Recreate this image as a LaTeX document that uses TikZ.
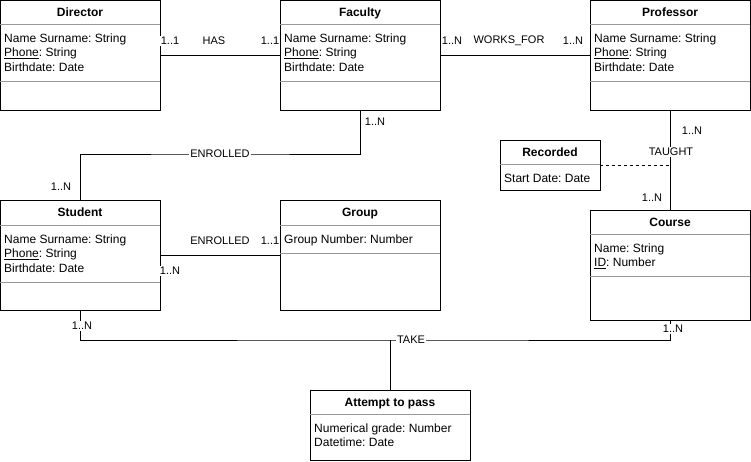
\documentclass[tikz,border=0pt]{standalone}
\usepackage{fontspec}
\setmainfont{Liberation Sans}
\usetikzlibrary{calc}
\frenchspacing

% entity box: name, left, top, width, height, header height, divider offset (0 = none), title, attribute lines
\newcommand\erentity[9]{%
  \node[entitybox, minimum width=#4pt, minimum height=#5pt, anchor=north west] (#1) at (#2,#3) {};
  \draw[divider] ($(#1.north west)+(0,#6)$) -- ($(#1.north east)+(0,#6)$);
  \ifnum#7>0 \draw[divider] ($(#1.north west)+(0,#7)$) -- ($(#1.north east)+(0,#7)$);\fi
  \node[titletext] at ($(#1.north)+(0,{#6/2+4})$) {#8};
  \foreach \attrline [count=\k] in {#9} {%
    \node[attrtext] at ($(#1.north west)+(4,{#6+18+(\k-1)*14.5})$) {\attrline};
  }%
}

\begin{document}
\begin{tikzpicture}[x=1pt,y=-1pt,
  entitybox/.style={draw=black, line width=1pt, fill=white, inner sep=0pt, outer sep=0pt},
  divider/.style={draw=black!40, line width=1pt},
  titletext/.style={font=\fontsize{12}{14}\selectfont\bfseries, inner sep=0pt, anchor=base},
  attrtext/.style={font=\fontsize{12}{14}\selectfont, inner sep=0pt, anchor=base west},
  rel/.style={draw=black, line width=1pt},
  optional/.style={draw=black, line width=1pt, dash pattern=on 3pt off 3pt},
  lbl/.style={font=\fontsize{11}{13}\selectfont, fill=white, inner sep=1pt}
]
\useasboundingbox (0,0) rectangle (751,461);

% entities
\erentity{director}{0}{0}{160}{110}{24}{81}{Director}{Name Surname: String, \underline{Phone}: String, Birthdate: Date}
\erentity{faculty}{280}{0}{160}{110}{24}{81}{Faculty}{Name Surname: String, \underline{Phone}: String, Birthdate: Date}
\erentity{professor}{590}{0}{160}{110}{24}{81}{Professor}{Name Surname: String, \underline{Phone}: String, Birthdate: Date}
\erentity{student}{0}{200}{160}{110}{25}{82}{Student}{Name Surname: String, \underline{Phone}: String, Birthdate: Date}
\erentity{group}{280}{200}{160}{110}{25}{53}{Group}{Group Number: Number}
\erentity{course}{590}{210}{160}{110}{24}{66}{Course}{Name: String, \underline{ID}: Number}
\erentity{recorded}{500}{140}{100}{50}{24}{0}{Recorded}{Start Date: Date}
\erentity{attempt}{310}{390}{160}{70}{24}{0}{Attempt to pass}{Numerical grade: Number, Datetime: Date}

% relationship routing points
\coordinate (enrollbend) at (220,154);
\coordinate (taughtpt) at (670,165);
\coordinate (takept) at (390,340);

% relationships
\draw[rel] (director) -- (faculty);
\draw[rel] (faculty) -- (professor);
\draw[rel] (faculty.south) |- (enrollbend) -| (student.north);
\draw[rel] (student) -- (group);
\draw[rel] (professor) -- (course);
\draw[optional] (recorded.east) -- (taughtpt);
\draw[rel] (student.south) |- (takept) -| (course.south);
\draw[rel] (takept) -- (attempt.north);

% relationship names and cardinalities
\node[lbl] (hasA) at (170,41) {1..1};
\node[lbl] (has) at (214,41) {HAS};
\node[lbl] (hasB) at (270,41) {1..1};

\node[lbl] (worksA) at (452,41) {1..N};
\node[lbl] (works) at (509,41) {WORKS\_FOR};
\node[lbl] (worksB) at (573,41) {1..N};

\node[lbl] (enrA) at (375,122) {1..N};
\node[lbl] (enr) at (220,154) {ENROLLED};
\node[lbl] (enrB) at (61,187) {1..N};

\node[lbl] (grpname) at (220,241) {ENROLLED};
\node[lbl] (grpA) at (270,241) {1..1};
\node[lbl] (grpB) at (170,271) {1..N};

\node[lbl] (taughtA) at (692,131) {1..N};
\node[lbl] (taught) at (671,152) {TAUGHT};
\node[lbl] (taughtB) at (652,198) {1..N};

\node[lbl] (takeA) at (82,326) {1..N};
\node[lbl] (take) at (411,340) {TAKE};
\node[lbl] (takeB) at (673,329) {1..N};
\end{tikzpicture}
\end{document}
